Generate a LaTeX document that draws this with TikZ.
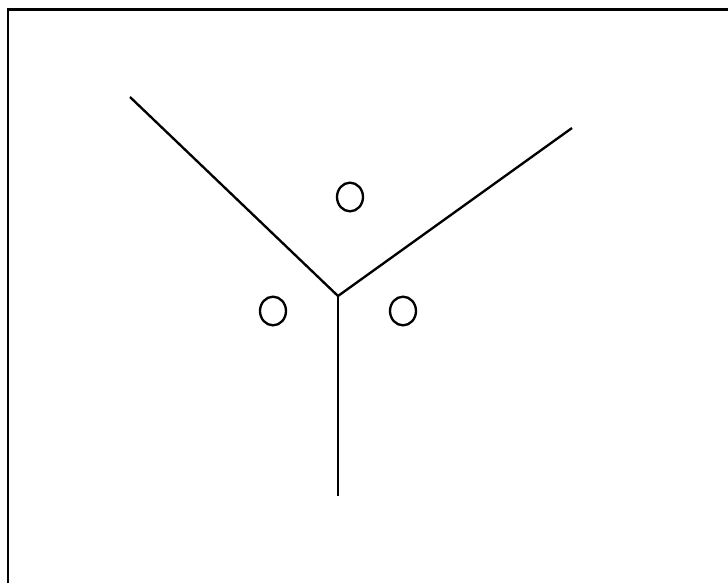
\documentclass[tikz,border=0pt]{standalone}
\usetikzlibrary{shapes.geometric}

\begin{document}
\begin{tikzpicture}[x=0.03cm, y=-0.03cm, line width=2pt,
  site/.style={draw, ellipse, inner sep=0pt, minimum width=0.78cm, minimum height=0.86cm}]
	\useasboundingbox (0,0) rectangle (728,583);
	% frame
	\draw (8,583) -- (8,9.5) -- (728,9.5);
	% edges
	\coordinate (mid) at (338,296);
	\coordinate (endl) at (130,97);
	\coordinate (endr) at (572,128);
	\coordinate (endb) at (338,496);
	\draw (endl) -- (mid) -- (endr);
	\draw (mid) -- (endb);
	% sites
	\node[site] (top) at (350,197) {};
	\node[site] (left) at (273,311) {};
	\node[site] (right) at (403,311) {};
\end{tikzpicture}
\end{document}
